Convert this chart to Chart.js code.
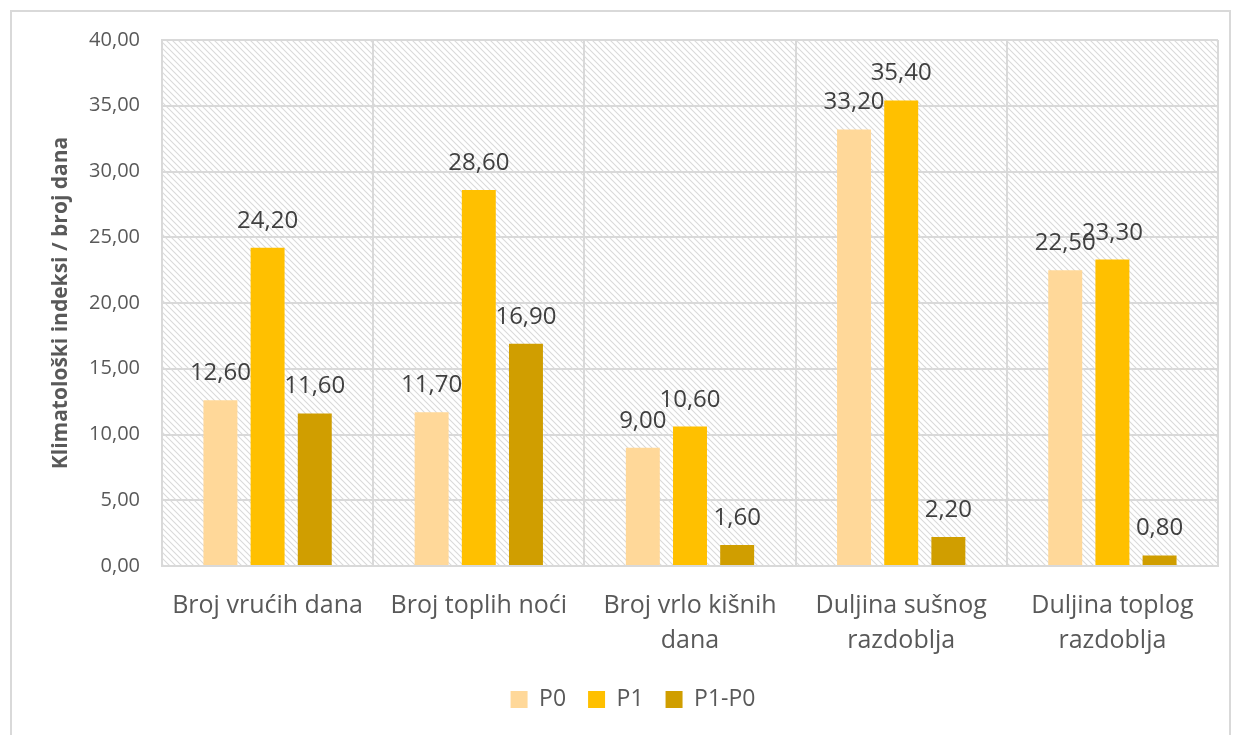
<!DOCTYPE html>
<html>
<head>
<meta charset="utf-8">
<script src="https://cdn.jsdelivr.net/npm/chart.js@4/dist/chart.umd.min.js"></script>
<style>
  body { margin: 0; background: #fff; }
  #frame { position: absolute; left: 10px; top: 10px; width: 1221px; height: 730px; border: 2px solid #d9d9d9; box-sizing: border-box; }
  #wrap { position: absolute; left: 0; top: 0; width: 1239px; height: 735px; }
</style>
</head>
<body>
<div id="frame"></div>
<div id="wrap"><canvas id="chart"></canvas></div>
<script>
const categories = [
  "Broj vrućih dana",
  "Broj toplih noći",
  ["Broj vrlo kišnih", "dana"],
  ["Duljina sušnog", "razdoblja"],
  ["Duljina toplog", "razdoblja"]
];
const p0 = [12.6, 11.7, 9.0, 33.2, 22.5];
const p1 = [24.2, 28.6, 10.6, 35.4, 23.3];
const diff = [11.6, 16.9, 1.6, 2.2, 0.8];

const fmt = v => v.toFixed(2).replace(".", ",");
const FONT = "'Open Sans', 'Noto Sans', sans-serif";

// hatched plot background
function hatch(ctx) {
  const c = document.createElement("canvas");
  c.width = 6; c.height = 6;
  const g = c.getContext("2d");
  g.strokeStyle = "#dadada";
  g.lineWidth = 1.1;
  g.beginPath();
  g.moveTo(0, 0); g.lineTo(6, 6);
  g.moveTo(-3, 3); g.lineTo(3, 9);
  g.moveTo(3, -3); g.lineTo(9, 3);
  g.stroke();
  return ctx.createPattern(c, "repeat");
}

const bgPlugin = {
  id: "bg",
  beforeDraw(chart) {
    const { ctx, chartArea: a } = chart;
    ctx.save();
    ctx.fillStyle = hatch(ctx);
    ctx.fillRect(a.left, a.top, a.right - a.left, a.bottom - a.top);
    ctx.restore();
  }
};

const labelPlugin = {
  id: "vals",
  afterDatasetsDraw(chart) {
    const ctx = chart.ctx;
    ctx.save();
    ctx.font = "24px " + FONT;
    ctx.fillStyle = "#404040";
    ctx.textAlign = "center";
    ctx.textBaseline = "alphabetic";
    chart.data.datasets.forEach((ds, i) => {
      chart.getDatasetMeta(i).data.forEach((bar, j) => {
        ctx.fillText(fmt(ds.data[j]), bar.x, bar.y - 20);
      });
    });
    ctx.restore();
  }
};

new Chart(document.getElementById("chart"), {
  type: "bar",
  data: {
    labels: categories,
    datasets: [
      { label: "P0", data: p0, backgroundColor: "#FFD899" },
      { label: "P1", data: p1, backgroundColor: "#FFC000" },
      { label: "P1-P0", data: diff, backgroundColor: "#D09E00" }
    ]
  },
  options: {
    responsive: true,
    maintainAspectRatio: false,
    animation: false,
    categoryPercentage: 0.67,
    barPercentage: 0.72,
    layout: { padding: { left: 48, right: 21, top: 40, bottom: 14 } },
    plugins: {
      tooltip: { enabled: false },
      legend: {
        position: "bottom",
        labels: {
          font: { family: FONT, size: 23 },
          color: "#595959",
          boxWidth: 17, boxHeight: 17,
          padding: 22
        }
      }
    },
    scales: {
      x: {
        grid: { offset: true, color: "#d9d9d9", lineWidth: 2, drawTicks: false },
        border: { color: "#d9d9d9", width: 2 },
        ticks: { font: { family: FONT, size: 25, lineHeight: 1.4 }, color: "#595959", padding: 22, maxRotation: 0, autoSkip: false },
        afterFit: s => { s.height = 100; }
      },
      y: {
        min: 0, max: 40,
        grid: { color: "#d9d9d9", lineWidth: 2, drawTicks: false },
        border: { color: "#d9d9d9", width: 2 },
        ticks: { stepSize: 5, font: { family: FONT, size: 20 }, color: "#595959", padding: 22, callback: v => fmt(v) },
        title: { display: true, text: "Klimatološki indeksi / broj dana", font: { family: FONT, size: 21, weight: "bold" }, color: "#595959", padding: 0 },
        afterFit: s => { s.width = 114; }
      }
    }
  },
  plugins: [bgPlugin, labelPlugin]
});
</script>
</body>
</html>
